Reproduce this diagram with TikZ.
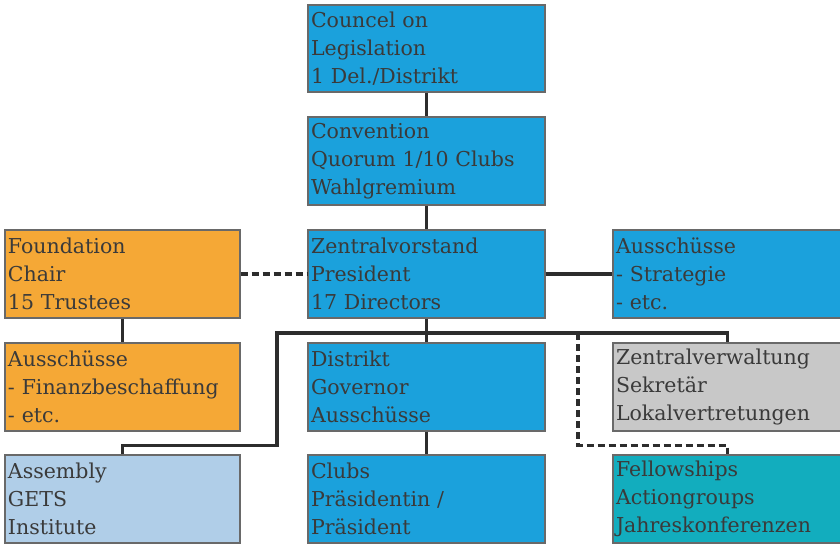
\documentclass[tikz,border=0pt]{standalone}
\usepackage{fontspec}
\setmainfont{DejaVu Serif}
\definecolor{cblue}{RGB}{27,161,220}
\definecolor{corange}{RGB}{245,168,54}
\definecolor{clight}{RGB}{176,206,232}
\definecolor{cgrey}{RGB}{200,200,200}
\definecolor{cteal}{RGB}{18,173,190}
\definecolor{ctext}{RGB}{58,58,58}
\definecolor{cborder}{RGB}{105,105,105}
\definecolor{cline}{RGB}{45,45,45}
\begin{document}
\begin{tikzpicture}[x=1pt,y=-1pt,
  orgbox/.style={draw=cborder, line width=1.4pt, inner xsep=3pt, inner ysep=0pt,
    align=left, text=ctext, anchor=center,
    font=\fontsize{20.5}{28}\selectfont},
  link/.style={draw=cline, line width=3.2pt},
  dlink/.style={draw=cline, line width=3.2pt, dash pattern=on 7pt off 4pt}]
\useasboundingbox (0,0) rectangle (840,545);
\newcommand{\orgbox}[7]{%
  \node[orgbox, fill=#6, minimum width={#4-#2}, minimum height={#5-#3},
    text width={#4-#2-6}] (#1) at ({(#2+#4)/2},{(#3+#5)/2}) {#7};}
\orgbox{council}{308}{5}{545}{92}{cblue}{Councel on\\Legislation\\1 Del./Distrikt}
\orgbox{conv}{308}{117}{545}{205}{cblue}{Convention\\Quorum 1/10 Clubs\\Wahlgremium}
\orgbox{zentral}{308}{230}{545}{318}{cblue}{Zentralvorstand\\President\\17 Directors}
\orgbox{found}{5}{230}{240}{318}{corange}{Foundation\\Chair\\15 Trustees}
\orgbox{aussR}{613}{230}{842}{318}{cblue}{Ausschüsse\\- Strategie\\- etc.}
\orgbox{aussL}{5}{343}{240}{431}{corange}{Ausschüsse\\- Finanzbeschaffung\\- etc.}
\orgbox{distrikt}{308}{343}{545}{431}{cblue}{Distrikt\\Governor\\Ausschüsse}
\orgbox{zv}{613}{343}{842}{431}{cgrey}{Zentralverwaltung\\Sekretär\\Lokalvertretungen}
\orgbox{assembly}{5}{455}{240}{543}{clight}{Assembly\\GETS\\Institute}
\orgbox{clubs}{308}{455}{545}{543}{cblue}{Clubs\\Präsidentin /\\Präsident}
\orgbox{fellow}{613}{455}{842}{543}{cteal}{Fellowships\\Actiongroups\\Jahreskonferenzen}
\coordinate (busL) at (277,333);
\coordinate (busR) at (727.5,333);
\coordinate (dashTop) at (578,333);
\draw[link] (council.south) -- (conv.north);
\draw[link] (conv.south) -- (zentral.north);
\draw[dlink] (found.east) -- (zentral.west);
\draw[link] (zentral.east) -- (aussR.west);
\draw[link] (found.south) -- (aussL.north);
\draw[link] (zentral.south) -- (distrikt.north);
\draw[link] (assembly.north) -- ++(0,-9) -| (busL) -- (busR) -- (zv.north);
\draw[dlink] (dashTop) |- ([yshift=9pt]fellow.north) -- (fellow.north);
\draw[link] (distrikt.south) -- (clubs.north);
\end{tikzpicture}
\end{document}
